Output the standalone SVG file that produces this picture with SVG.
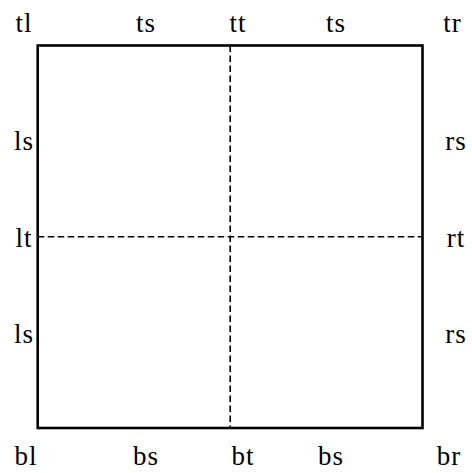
<svg xmlns="http://www.w3.org/2000/svg" width="472" height="473" viewBox="0 0 472 473">
<style>
text{font-family:"Liberation Serif","DejaVu Serif",serif;font-size:27px;letter-spacing:1px;fill:#000;text-anchor:middle}
.frame{fill:none;stroke:#000;stroke-width:2.6}
.dash{fill:none;stroke:#000;stroke-width:1.6;stroke-dasharray:6.5 3.5}
</style>
<rect width="472" height="473" fill="#fff"/>
<g id="connectors">
<line class="dash" x1="230.2" y1="45.5" x2="230.2" y2="428"/>
<line class="dash" x1="37.7" y1="236.8" x2="422.5" y2="236.8"/>
</g>
<g id="frame"><rect class="frame" x="37.7" y="45.5" width="384.8" height="382.5"/></g>
<g id="labels">
<g id="tl"><text x="24" y="32">tl</text></g>
<g id="ts1"><text x="146" y="32">ts</text></g>
<g id="tt"><text x="238" y="32">tt</text></g>
<g id="ts2"><text x="336" y="32">ts</text></g>
<g id="tr"><text x="452.5" y="32">tr</text></g>
<g id="ls1"><text x="24" y="150">ls</text></g>
<g id="lt"><text x="24" y="247">lt</text></g>
<g id="ls2"><text x="24" y="343">ls</text></g>
<g id="rs1"><text x="456" y="150">rs</text></g>
<g id="rt"><text x="456" y="247">rt</text></g>
<g id="rs2"><text x="456" y="343">rs</text></g>
<g id="bl"><text x="26" y="465">bl</text></g>
<g id="bs1"><text x="146" y="465">bs</text></g>
<g id="bt"><text x="243" y="465">bt</text></g>
<g id="bs2"><text x="331" y="465">bs</text></g>
<g id="br"><text x="449" y="465">br</text></g>
</g>
</svg>
